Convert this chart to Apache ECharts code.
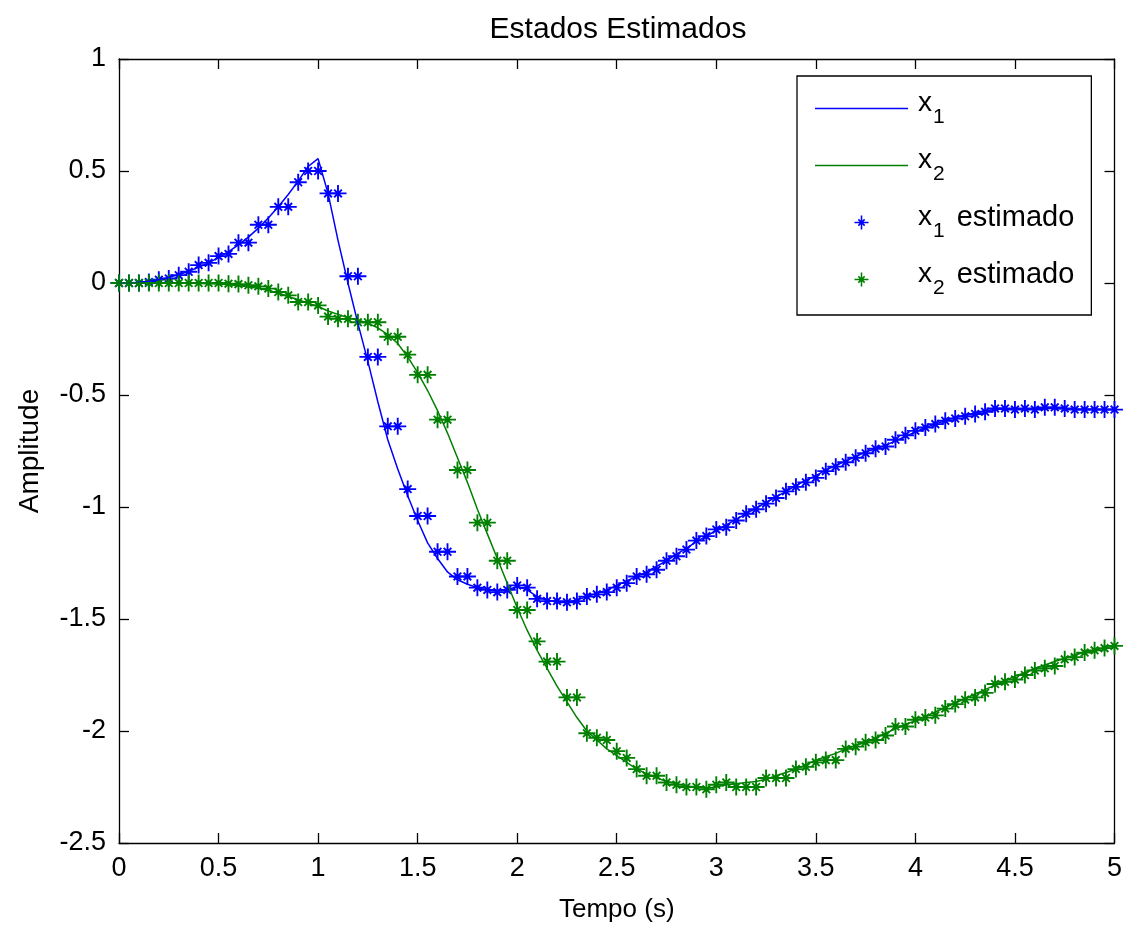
<!DOCTYPE html>
<html>
<head>
<meta charset="utf-8">
<title>Estados Estimados</title>
<script src="https://cdn.jsdelivr.net/npm/echarts@6/dist/echarts.min.js"></script>
<style>
  html, body { margin: 0; padding: 0; background: #ffffff; }
  #chart { width: 1125px; height: 928px; }
</style>
</head>
<body>
<div id="chart"></div>
<script>
// Sample instants (s)
const time = [
  0, 0.05, 0.1, 0.15, 0.2, 0.25, 0.3, 0.35, 0.4, 0.45,
  0.5, 0.55, 0.6, 0.65, 0.7, 0.75, 0.8, 0.85, 0.9, 0.95,
  1, 1.05, 1.1, 1.15, 1.2, 1.25, 1.3, 1.35, 1.4, 1.45,
  1.5, 1.55, 1.6, 1.65, 1.7, 1.75, 1.8, 1.85, 1.9, 1.95,
  2, 2.05, 2.1, 2.15, 2.2, 2.25, 2.3, 2.35, 2.4, 2.45,
  2.5, 2.55, 2.6, 2.65, 2.7, 2.75, 2.8, 2.85, 2.9, 2.95,
  3, 3.05, 3.1, 3.15, 3.2, 3.25, 3.3, 3.35, 3.4, 3.45,
  3.5, 3.55, 3.6, 3.65, 3.7, 3.75, 3.8, 3.85, 3.9, 3.95,
  4, 4.05, 4.1, 4.15, 4.2, 4.25, 4.3, 4.35, 4.4, 4.45,
  4.5, 4.55, 4.6, 4.65, 4.7, 4.75, 4.8, 4.85, 4.9, 4.95,
  5
];

// True state x1
const x1 = [
  0, 0, 0.003, 0.008, 0.015, 0.025, 0.037, 0.052, 0.07, 0.09,
  0.113, 0.14, 0.17, 0.205, 0.245, 0.29, 0.34, 0.395, 0.455, 0.52,
  0.555, 0.40, 0.19, 0.0, -0.18, -0.35, -0.53, -0.70, -0.83, -0.95,
  -1.06, -1.16, -1.23, -1.29, -1.325, -1.345, -1.36, -1.37, -1.375, -1.37,
  -1.355, -1.37, -1.40, -1.415, -1.425, -1.425, -1.415, -1.40, -1.385, -1.37,
  -1.35, -1.33, -1.31, -1.29, -1.265, -1.24, -1.21, -1.185, -1.155, -1.13,
  -1.105, -1.08, -1.055, -1.03, -1.005, -0.98, -0.955, -0.93, -0.905, -0.88,
  -0.86, -0.835, -0.815, -0.795, -0.775, -0.755, -0.74, -0.725, -0.705, -0.685,
  -0.665, -0.645, -0.63, -0.615, -0.6, -0.59, -0.58, -0.57, -0.565, -0.562,
  -0.562, -0.563, -0.561, -0.56, -0.56, -0.561, -0.562, -0.563, -0.563, -0.564,
  -0.564
];

// True state x2
const x2 = [
  0, 0, 0, 0, 0, 0, 0, -0.001, -0.002, -0.003,
  -0.005, -0.008, -0.012, -0.017, -0.024, -0.033, -0.045, -0.06, -0.075, -0.09,
  -0.105, -0.125, -0.14, -0.155, -0.165, -0.18, -0.20, -0.23, -0.27, -0.33,
  -0.40, -0.48, -0.57, -0.67, -0.78, -0.89, -1.01, -1.12, -1.23, -1.34,
  -1.45, -1.55, -1.64, -1.72, -1.80, -1.87, -1.94, -2.00, -2.04, -2.08,
  -2.11, -2.14, -2.17, -2.19, -2.21, -2.225, -2.235, -2.245, -2.25, -2.255,
  -2.25, -2.24, -2.235, -2.23, -2.225, -2.215, -2.20, -2.185, -2.17, -2.15,
  -2.13, -2.115, -2.10, -2.08, -2.065, -2.05, -2.03, -2.01, -1.99, -1.97,
  -1.955, -1.935, -1.915, -1.895, -1.875, -1.855, -1.835, -1.815, -1.795, -1.775,
  -1.755, -1.74, -1.72, -1.705, -1.69, -1.675, -1.66, -1.65, -1.64, -1.63,
  -1.62
];

// Estimated state x1
const x1Est = [
  0, 0, 0, 0.005, 0.015, 0.02, 0.035, 0.05, 0.08, 0.09,
  0.12, 0.13, 0.18, 0.18, 0.26, 0.26, 0.34, 0.34, 0.45, 0.50,
  0.50, 0.40, 0.40, 0.03, 0.03, -0.33, -0.33, -0.64, -0.64, -0.92,
  -1.04, -1.04, -1.20, -1.20, -1.31, -1.31, -1.36, -1.37, -1.38, -1.37,
  -1.35, -1.36, -1.41, -1.42, -1.42, -1.425, -1.42, -1.40, -1.39, -1.38,
  -1.36, -1.34, -1.31, -1.30, -1.28, -1.24, -1.22, -1.19, -1.15, -1.13,
  -1.10, -1.09, -1.06, -1.03, -1.01, -0.985, -0.96, -0.93, -0.91, -0.89,
  -0.87, -0.84, -0.82, -0.80, -0.78, -0.76, -0.74, -0.73, -0.70, -0.68,
  -0.66, -0.645, -0.63, -0.615, -0.605, -0.595, -0.585, -0.575, -0.56, -0.56,
  -0.565, -0.56, -0.565, -0.555, -0.555, -0.56, -0.565, -0.565, -0.565, -0.565,
  -0.565
];

// Estimated state x2
const x2Est = [
  0, 0, 0, 0, 0, 0, 0, 0, 0, 0,
  0, -0.003, -0.005, -0.01, -0.015, -0.025, -0.04, -0.055, -0.085, -0.085,
  -0.10, -0.15, -0.16, -0.16, -0.175, -0.175, -0.175, -0.24, -0.24, -0.32,
  -0.41, -0.41, -0.61, -0.61, -0.835, -0.835, -1.07, -1.07, -1.24, -1.24,
  -1.46, -1.46, -1.60, -1.69, -1.69, -1.85, -1.85, -2.01, -2.03, -2.04,
  -2.09, -2.12, -2.17, -2.20, -2.20, -2.23, -2.24, -2.25, -2.25, -2.26,
  -2.24, -2.23, -2.25, -2.25, -2.25, -2.21, -2.21, -2.21, -2.17, -2.16,
  -2.14, -2.13, -2.13, -2.08, -2.07, -2.05, -2.04, -2.02, -1.98, -1.98,
  -1.95, -1.94, -1.93, -1.90, -1.88, -1.86, -1.85, -1.83, -1.79, -1.78,
  -1.77, -1.75, -1.73, -1.72, -1.71, -1.68, -1.67, -1.65, -1.64, -1.63,
  -1.62
];

const seriesNames = ['x1', 'x2', 'x1 estimado', 'x2 estimado'];

const FONT = "'Liberation Sans', Arial, Helvetica, sans-serif";
const BLUE = '#0000ff';
const GREEN = '#008000';

// Asterisk marker: plus with shorter diagonals
const STAR = 'path://M0 8.9L20 8.9L20 11.1L0 11.1Z' +
  'M8.9 0L11.1 0L11.1 20L8.9 20Z' +
  'M4.70 6.26L6.26 4.70L15.30 13.74L13.74 15.30Z' +
  'M13.74 4.70L15.30 6.26L6.26 15.30L4.70 13.74Z';

// Legend sample for the solid lines (a plain horizontal stroke)
const LINE_ICON = 'path://M0 0L93 0L93 1.4L0 1.4Z';

function pairs(xs, ys) {
  return xs.map((t, i) => [t, ys[i]]);
}

const legendLabels = {
  'x1': '{v|x}{s|1}',
  'x2': '{v|x}{s|2}',
  'x1 estimado': '{v|x}{s|1}{e|estimado}',
  'x2 estimado': '{v|x}{s|2}{e|estimado}'
};

const axisCommon = {
  type: 'value',
  axisLine: { show: true, onZero: false, lineStyle: { color: '#000', width: 1.3 } },
  axisTick: { show: true, inside: true, length: 10, lineStyle: { color: '#000', width: 1.3 } },
  splitLine: { show: false }
};

const chart = echarts.init(document.getElementById('chart'), null, { renderer: 'canvas' });

chart.setOption({
  animation: false,
  backgroundColor: '#ffffff',
  title: {
    text: 'Estados Estimados',
    left: 613,
    textAlign: 'center',
    top: 10,
    textStyle: { fontFamily: FONT, fontSize: 30, fontWeight: 'normal', color: '#000' }
  },
  grid: { left: 119, right: 8, top: 59, bottom: 85, containLabel: false },
  legend: {
    orient: 'vertical',
    left: 797,
    top: 76,
    padding: [13, 17, 16, 18],
    itemGap: 18,
    itemWidth: 93,
    itemHeight: 14,
    selectedMode: false,
    backgroundColor: '#ffffff',
    borderColor: '#000',
    borderWidth: 1.3,
    borderRadius: 0,
    data: [
      { name: seriesNames[0], icon: LINE_ICON },
      { name: seriesNames[1], icon: LINE_ICON },
      { name: seriesNames[2] },
      { name: seriesNames[3] }
    ],
    formatter: name => legendLabels[name],
    textStyle: {
      fontFamily: FONT,
      color: '#000',
      rich: {
        v: { fontFamily: FONT, fontSize: 28, color: '#000', verticalAlign: 'top', padding: [0, 0, 0, 5] },
        s: { fontFamily: FONT, fontSize: 21, color: '#000', verticalAlign: 'top', padding: [18, 0, 0, 1] },
        e: { fontFamily: FONT, fontSize: 29, color: '#000', verticalAlign: 'top', padding: [0, 0, 0, 12] }
      }
    }
  },
  xAxis: [
    Object.assign({}, axisCommon, {
      min: 0, max: 5, interval: 0.5, position: 'bottom',
      name: 'Tempo (s)', nameLocation: 'middle', nameGap: 54,
      nameTextStyle: { fontFamily: FONT, fontSize: 26, color: '#000' },
      axisLabel: { fontFamily: FONT, fontSize: 27, color: '#000', margin: 12 }
    }),
    Object.assign({}, axisCommon, {
      min: 0, max: 5, interval: 0.5, position: 'top',
      axisLabel: { show: false }
    })
  ],
  yAxis: [
    Object.assign({}, axisCommon, {
      min: -2.5, max: 1, interval: 0.5, position: 'left',
      name: 'Amplitude', nameLocation: 'middle', nameGap: 75,
      nameTextStyle: { fontFamily: FONT, fontSize: 28, color: '#000' },
      axisLabel: { fontFamily: FONT, fontSize: 27, color: '#000', margin: 13 }
    }),
    Object.assign({}, axisCommon, {
      min: -2.5, max: 1, interval: 0.5, position: 'right',
      axisLabel: { show: false }
    })
  ],
  series: [
    {
      name: 'x1', type: 'line', xAxisIndex: 0, yAxisIndex: 0,
      data: pairs(time, x1),
      symbol: 'none', showSymbol: false,
      lineStyle: { color: BLUE, width: 1.5 },
      itemStyle: { color: BLUE }
    },
    {
      name: 'x2', type: 'line', xAxisIndex: 0, yAxisIndex: 0,
      data: pairs(time, x2),
      symbol: 'none', showSymbol: false,
      lineStyle: { color: GREEN, width: 1.5 },
      itemStyle: { color: GREEN }
    },
    {
      name: 'x1 estimado', type: 'scatter', xAxisIndex: 0, yAxisIndex: 0,
      data: pairs(time, x1Est),
      symbol: STAR, symbolSize: 17, symbolKeepAspect: true,
      itemStyle: { color: BLUE, opacity: 1 }
    },
    {
      name: 'x2 estimado', type: 'scatter', xAxisIndex: 0, yAxisIndex: 0,
      data: pairs(time, x2Est),
      symbol: STAR, symbolSize: 17, symbolKeepAspect: true,
      itemStyle: { color: GREEN, opacity: 1 }
    }
  ]
});
</script>
</body>
</html>
